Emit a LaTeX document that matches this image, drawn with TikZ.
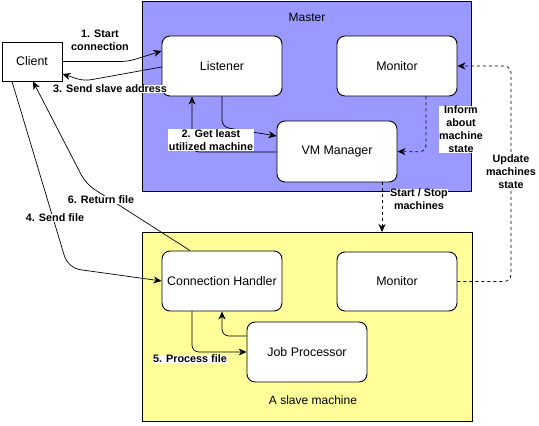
\documentclass[tikz,border=0pt]{standalone}
\usepackage{fontspec}
\setmainfont{Liberation Sans}
\usetikzlibrary{calc,arrows.meta}
\definecolor{masterfill}{HTML}{9999FF}
\definecolor{slavefill}{HTML}{FFFF99}
\begin{document}
\begin{tikzpicture}[x=1pt,y=-1pt,
  comp/.style={draw,fill=white,rounded corners=8pt,line width=0.9pt,minimum width=120pt,minimum height=60pt,inner sep=0pt,font=\fontsize{12.4}{14}\selectfont},
  plain/.style={draw,fill=white,line width=0.9pt,minimum width=60pt,minimum height=39pt,inner sep=0pt,font=\fontsize{12.4}{14}\selectfont},
  group/.style={draw,line width=0.9pt,anchor=north west,inner sep=0pt},
  lbl/.style={fill=white,inner sep=0.5pt,align=center,font=\fontsize{10.8}{13}\selectfont\bfseries},
  ttl/.style={font=\fontsize{12}{14}\selectfont},
  arr/.style={-{Stealth[length=8pt,width=7pt,inset=2.5pt]},line width=0.7pt,rounded corners=7pt},
  darr/.style={arr,dash pattern=on 3pt off 3pt}]
\useasboundingbox[fill=white] (0,0) rectangle (539,426);
% containers
\node[group,fill=masterfill,minimum width=329pt,minimum height=190pt] (Master) at (142,1) {};
\node[group,fill=slavefill,minimum width=330pt,minimum height=189pt] (Slave) at (142,232) {};
\node[ttl] (MasterT) at (307,17) {Master};
\node[ttl] (SlaveT) at (313,400) {A slave machine};
% components
\node[plain] (Client) at (32,61.5) {Client};
\node[comp] (Listener) at (222,66) {Listener};
\node[comp] (MMon) at (397,66) {Monitor};
\node[comp,minimum height=61pt] (VM) at (337,151.5) {VM Manager};
\node[comp] (CH) at (222,281) {Connection Handler};
\node[comp,minimum height=59pt] (SMon) at (397,281.5) {Monitor};
\node[comp] (JP) at (307,352) {Job Processor};
% coordinates for bends
\coordinate (b1) at (128,61.5);
\coordinate (b3) at (84,81);
\coordinate (b2a) at (222,127);
\coordinate (b2b) at (192,152);
\coordinate (b4) at (68,268);
\coordinate (b6) at (86,184);
\coordinate (b5) at (192,352);
\coordinate (b5b) at (222,336);
\coordinate (bi) at (426,152);
\coordinate (bu1) at (511,281.5);
\coordinate (bu2) at (511,66);
\coordinate (vs) at ($(VM.south)+(45,0)$);
% connectors
\draw[arr] (Client.east) -- (b1) -- ($(Listener.west)+(0,-15)$);
\draw[arr] ($(Listener.west)+(0,1)$) -- (b3) -- ($(Client.east)+(0,12.5)$);
\draw[arr] (Listener.south) -- (b2a) -- ($(VM.west)+(0,-15.5)$);
\draw[arr] ($(VM.west)+(0,0.5)$) -- (b2b) -- ($(Listener.south)+(-30,0)$);
\draw[darr] ($(MMon.south)+(29,0)$) -- (bi) -- (VM.east);
\draw[darr] (vs) -- (vs |- Slave.north);
\draw[darr] (SMon.east) -- (bu1) -- (bu2) -- (MMon.east);
\draw[arr,rounded corners=12pt] ($(Client.south)+(-20,0)$) -- (b4) -- (CH.west);
\draw[arr,rounded corners=10pt] ($(CH.north)+(-32,0)$) -- (b6) -- ($(Client.south)+(1,0)$);
\draw[arr] ($(CH.south)+(-30,0)$) -- (b5) -- (JP.west);
\draw[arr] ($(JP.west)+(0,-16)$) -- (b5b) -- (CH.south);
% labels
\node[lbl,fill=none] (L1) at (100,40) {1. Start\\connection};
\node[lbl] (L3) at (110,89) {3. Send slave address};
\node[lbl] (L2) at (211,140) {2. Get least\\utilized machine};
\node[lbl] (Li) at (461,129.5) {Inform\\about\\machine\\state};
\node[lbl] (Ls) at (419,199.5) {Start / Stop\\machines};
\node[lbl] (Lu) at (511,172) {Update\\machines\\state};
\node[lbl] (L4) at (55,218) {4. Send file};
\node[lbl] (L6) at (101,200) {6. Return file};
\node[lbl] (L5) at (190,359) {5. Process file};
\end{tikzpicture}
\end{document}
